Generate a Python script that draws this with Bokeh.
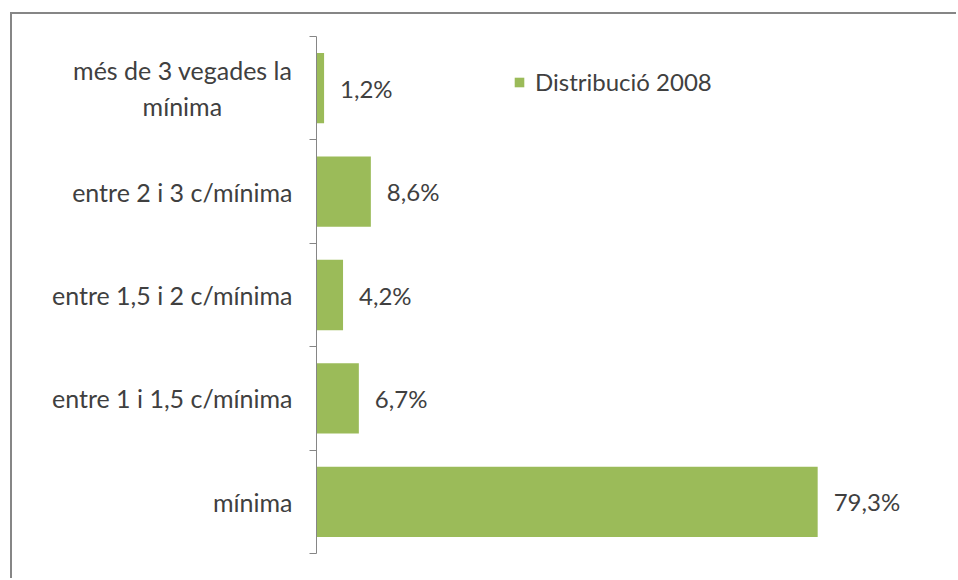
from bokeh.plotting import figure
from bokeh.models import Range1d, FixedTicker, ColumnDataSource, Legend, LegendItem
from bokeh.core.properties import value
from bokeh.embed import file_html
from bokeh.resources import INLINE

categories = ["mínima", "entre 1 i 1,5 c/mínima", "entre 1,5 i 2 c/mínima",
              "entre 2 i 3 c/mínima", "més de 3 vegades la\nmínima"]
values = [79.3, 6.7, 4.2, 8.6, 1.2]
value_labels = ["79,3%", "6,7%", "4,2%", "8,6%", "1,2%"]
series_name = "Distribució 2008"

FONT = "Lato"
TEXT = "#404040"
GRAY = "#868686"
GREEN = "#9BBB59"
FS = "24px"

# centre the short second line of the two-line label under the first one
tick_labels = [c if "\n" not in c else c + "\u00a0" * 11 for c in categories]

pos = [i + 0.5 for i in range(len(categories))]
src = ColumnDataSource(dict(y=pos, v=values, lab=value_labels))

p = figure(width=946, height=566, output_backend="svg", toolbar_location=None,
           x_range=Range1d(0, 100), y_range=Range1d(0, len(categories)),
           min_border_left=304, min_border_right=10, min_border_top=22,
           min_border_bottom=27,
           styles={"margin-left": "10px", "margin-top": "12px",
                   "border-left": "2px solid #868686",
                   "border-top": "2px solid #868686"})
p.xaxis.visible = False
p.xgrid.visible = False
p.ygrid.visible = False
p.outline_line_color = None

r = p.hbar(y="y", right="v", left=0, height=0.68, source=src,
           fill_color=GREEN, line_color=None)
p.text(x="v", y="y", text="lab", source=src, x_offset=16, text_align="left",
       text_baseline="middle", text_font=value(FONT), text_font_size=FS,
       text_color=TEXT)

ax = p.yaxis[0]
ax.ticker = FixedTicker(ticks=pos, minor_ticks=list(range(len(categories) + 1)))
ax.major_label_overrides = {pp: c for pp, c in zip(pos, tick_labels)}
ax.major_tick_out = 0
ax.major_tick_in = 0
ax.minor_tick_out = 7
ax.minor_tick_in = 0
ax.minor_tick_line_color = GRAY
ax.axis_line_color = GRAY
ax.major_label_text_font = FONT
ax.major_label_text_font_size = "25px"
ax.major_label_text_color = TEXT
ax.major_label_standoff = 17

legend = Legend(items=[LegendItem(label=series_name, renderers=[r])],
                location=(197, 457), glyph_width=12, glyph_height=12,
                label_standoff=10, padding=0, margin=0, border_line_color=None,
                background_fill_alpha=0, label_text_font=FONT,
                label_text_font_size=FS, label_text_color=TEXT)
p.add_layout(legend)

open("out.html", "w").write(file_html(p, INLINE))
